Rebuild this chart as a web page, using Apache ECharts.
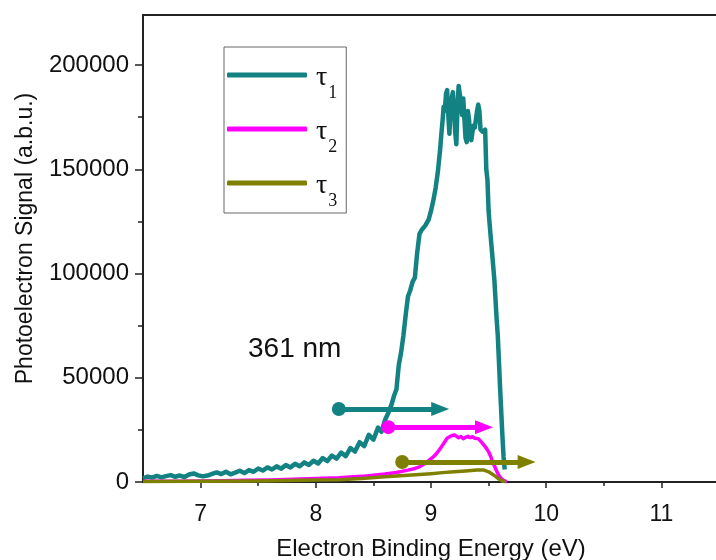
<!DOCTYPE html>
<html><head><meta charset="utf-8">
<script src="https://cdn.jsdelivr.net/npm/echarts@6/dist/echarts.min.js"></script>
<style>html,body{margin:0;padding:0;background:#fff}#c{width:716px;height:560px}</style>
</head><body><div id="c"></div>
<script>
// ---- data ----
const seriesNames = ['τ1', 'τ2', 'τ3'];
const seriesColors = ['#138282', '#ff00ff', '#808000'];

const tau1Energy = [6.50,6.54,6.58,6.62,6.66,6.70,6.74,6.78,6.82,6.86,6.90,6.94,6.98,7.02,7.06,7.10,7.14,7.18,7.22,7.26,7.30,7.34,7.38,7.42,7.46,7.50,7.54,7.58,7.62,7.66,7.70,7.74,7.78,7.82,7.86,7.90,7.94,7.98,8.02,8.06,8.10,8.14,8.18,8.22,8.26,8.30,8.34,8.38,8.42,8.46,8.50,8.54,8.57,8.60,8.63,8.66,8.68,8.70,8.72,8.74,8.76,8.78,8.80,8.82,8.84,8.86,8.88,8.90,8.92,8.95,8.98,9.00,9.02,9.04,9.06,9.08,9.09,9.10,9.11,9.12,9.13,9.14,9.15,9.16,9.17,9.18,9.19,9.20,9.21,9.22,9.23,9.24,9.25,9.26,9.27,9.28,9.29,9.30,9.31,9.32,9.33,9.34,9.35,9.36,9.37,9.38,9.39,9.40,9.41,9.42,9.43,9.45,9.47,9.48,9.49,9.50,9.51,9.53,9.55,9.57,9.58,9.60,9.62,9.63,9.64];
const tau1Signal = [1800,2600,2100,2900,2200,2800,3300,2500,3100,2400,3600,4100,3200,2700,3100,3900,4600,3800,4900,3700,4500,5400,4300,5700,4900,6500,5500,7000,6000,7500,6400,8100,7000,8700,7600,9400,8200,10200,8900,11500,10000,12700,11200,14100,12400,16300,14600,19100,17200,22600,20300,26100,24100,29600,33200,37600,41500,44500,56000,62000,70000,80000,89000,92000,96000,98000,110000,119000,121000,123000,126000,130000,135000,141000,149000,160000,167000,173000,180000,178000,186000,188000,176000,167000,180000,184000,187000,178000,168000,162000,180000,190000,186000,182000,176000,184000,174000,165000,163000,178000,174000,166000,164000,168000,171000,170000,174000,178000,181000,178000,169000,168000,169000,150000,145000,130000,123000,110000,97000,78000,70000,45000,22000,12000,6000];

const tau2Energy = [6.50,6.80,7.00,7.20,7.40,7.60,7.80,8.00,8.20,8.40,8.50,8.60,8.70,8.80,8.86,8.90,8.94,8.98,9.02,9.05,9.08,9.11,9.14,9.17,9.20,9.22,9.24,9.26,9.28,9.30,9.32,9.34,9.36,9.38,9.41,9.44,9.47,9.50,9.52,9.54,9.56,9.58,9.60,9.62,9.64,9.66];
const tau2Signal = [300,400,500,600,800,1000,1300,1700,2000,2700,3200,3800,4600,5700,6500,7300,8600,10300,12000,13800,16000,18500,21000,22000,22600,22000,21200,21800,20800,21400,21900,21300,21700,21000,20800,19000,17000,14500,12000,9000,6500,4000,2300,1200,500,100];

const tau3Energy = [6.50,7.00,7.50,8.00,8.20,8.40,8.60,8.80,9.00,9.10,9.20,9.30,9.40,9.46,9.50,9.53,9.56,9.59,9.62,9.65];
const tau3Signal = [200,300,500,900,1100,1700,2500,3200,4000,4500,4900,5300,5700,5700,4900,3800,2700,1400,500,100];

// onset arrows (start energy, end energy, level)
const arrowStartEnergy = [8.20, 8.63, 8.75];
const arrowEndEnergy = [9.08, 9.46, 9.83];
const arrowLevel = [35000, 26300, 9600];

const xTickValues = [7, 8, 9, 10, 11];
const yTickValues = [0, 50000, 100000, 150000, 200000];

const annotationText = '361 nm';
const xAxisTitle = 'Electron Binding Energy (eV)';
const yAxisTitle = 'Photoelectron Signal (a.b.u.)';

// ---- build ----
const energies = [tau1Energy, tau2Energy, tau3Energy];
const signals = [tau1Signal, tau2Signal, tau3Signal];
const widths = [4.5, 3.5, 3.5];

const series = seriesNames.map((name, i) => ({
  name: name,
  type: 'line',
  data: energies[i].map((e, k) => [e, signals[i][k]]),
  showSymbol: false,
  symbol: 'none',
  color: seriesColors[i],
  lineStyle: { color: seriesColors[i], width: widths[i], join: 'round' },
  animation: false,
  silent: true,
  markLine: {
    silent: true,
    animation: false,
    symbol: ['circle', 'triangle'],
    symbolSize: [14, 18],
    lineStyle: { color: seriesColors[i], width: 5, type: 'solid' },
    itemStyle: { color: seriesColors[i] },
    label: { show: false },
    emphasis: { disabled: true },
    data: [[{ coord: [arrowStartEnergy[i], arrowLevel[i]] }, { coord: [arrowEndEnergy[i], arrowLevel[i]] }]]
  }
}));

const axisColor = '#222';
const chart = echarts.init(document.getElementById('c'), null, { renderer: 'canvas' });
chart.setOption({
  animation: false,
  backgroundColor: '#fff',
  grid: { left: 143, right: -3, top: 15, bottom: 78, outerBoundsMode: 'none', containLabel: false,
          show: true, borderColor: axisColor, borderWidth: 2, backgroundColor: 'transparent' },
  legend: {
    data: seriesNames,
    orient: 'vertical',
    left: 224, top: 47,
    padding: [17, 9, 3, 3],
    itemGap: 16,
    itemWidth: 80, itemHeight: 5,
    itemStyle: { borderWidth: 0 },
    icon: 'roundRect',
    borderColor: '#666', borderWidth: 1, backgroundColor: '#fff',
    selectedMode: false,
    formatter: n => '{t|τ}{s|' + n.slice(1) + '}',
    textStyle: {
      color: '#111',
      rich: {
        t: { fontFamily: 'Liberation Serif', fontSize: 28, lineHeight: 22, padding: [0, 0, 0, 4], verticalAlign: 'top', color: '#111' },
        s: { fontFamily: 'Liberation Serif', fontSize: 18, lineHeight: 18, padding: [20, 0, 0, 1], verticalAlign: 'top', color: '#111' }
      }
    }
  },
  xAxis: {
    type: 'value', min: 6.5, max: 11.5,
    splitLine: { show: false },
    axisLine: { show: true, onZero: false, lineStyle: { color: axisColor, width: 2 } },
    axisTick: { show: true, inside: false, length: 6, customValues: xTickValues, lineStyle: { color: axisColor, width: 1.5 } },
    minorTick: { show: true, splitNumber: 2, length: 4, lineStyle: { color: axisColor, width: 1.5 } },
    axisLabel: { fontFamily: 'Liberation Sans', fontSize: 23, color: '#111', margin: 21, customValues: xTickValues,
      formatter: v => String(v) },
    name: xAxisTitle, nameLocation: 'middle', nameGap: 55,
    nameTextStyle: { fontFamily: 'Liberation Sans', fontSize: 24, color: '#111' }
  },
  yAxis: {
    type: 'value', min: 0, max: 224000, interval: 50000,
    splitLine: { show: false },
    axisLine: { show: true, lineStyle: { color: axisColor, width: 2 } },
    axisTick: { show: true, inside: false, length: 8, customValues: yTickValues, lineStyle: { color: axisColor, width: 1.5 } },
    minorTick: { show: true, splitNumber: 2, length: 5, lineStyle: { color: axisColor, width: 1.5 } },
    axisLabel: { fontFamily: 'Liberation Sans', fontSize: 24, color: '#111', margin: 14, customValues: yTickValues,
      formatter: v => String(v) },
    name: yAxisTitle, nameLocation: 'middle', nameGap: 106,
    nameTextStyle: { fontFamily: 'Liberation Sans', fontSize: 23, color: '#111', padding: [0, 0, 0, 20] }
  },
  graphic: [{
    type: 'text', left: 248, top: 335, silent: true,
    style: { text: annotationText, font: '28px "Liberation Sans"', fill: '#111' }
  }],
  series: series
});
</script>
</body></html>
